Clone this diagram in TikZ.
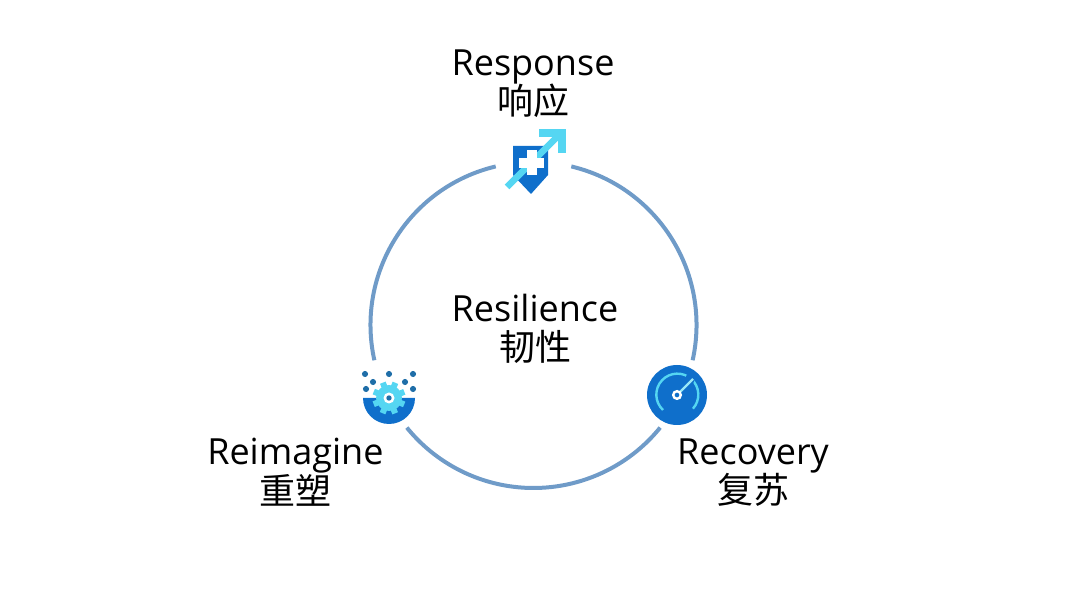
\documentclass[tikz,border=0pt]{standalone}
\usepackage{fontspec}
\setmainfont{Open Sans}
\newfontfamily\cjk{Noto Sans CJK SC}
\usetikzlibrary{positioning}

\definecolor{ringblue}{HTML}{6F9BC8}
\definecolor{iconblue}{HTML}{0F6FCB}
\definecolor{iconcyan}{HTML}{55D6F2}
\definecolor{dotblue}{HTML}{1F6EA8}

\begin{document}
\begin{tikzpicture}[
    x=0.75pt, y=0.75pt,
    word/.style={align=center, inner sep=0pt, text=black, font=\fontsize{27}{29.6}\selectfont},
    anchorbox/.style={inner sep=0pt, minimum size=37.5pt},
    ring/.style={draw=ringblue, line width=3pt},
    raydot/.style={fill=dotblue, circle, inner sep=0pt, minimum size=4.6pt}
  ]
  \useasboundingbox (0,0) rectangle (1067,599);

  \node[word] (hub) at (535,270) {Resilience\\{\cjk 韧性}};
  \coordinate (rc) at (533.5,274);

  % icon places
  \node[anchorbox] (resp) at (533,438) {};
  \node[anchorbox] (reim) at (389,203) {};
  \node[anchorbox] (reco) at (677,204) {};

  % labels
  \node[word, above=13pt of resp] (resptext) {Response\\{\cjk 响应}};
  \node[word, below left=12.5pt and -15pt of reim] (reimtext) {Reimagine\\{\cjk 重塑}};
  \node[word, below right=13.5pt and -19pt of reco] (recotext) {Recovery\\{\cjk 复苏}};

  % ring pieces
  \draw[ring] (rc) ++(76.6:122.25pt) arc[start angle=76.6, end angle=-12.5, radius=122.25pt];
  \draw[ring] (rc) ++(-39:122.25pt) arc[start angle=-39, end angle=-141, radius=122.25pt];
  \draw[ring] (rc) ++(192.5:122.25pt) arc[start angle=192.5, end angle=103.4, radius=122.25pt];

  % shield
  \fill[iconblue] (513,453) -- (548,453) -- (548,424) -- (531,405) -- (513,424) -- cycle;
  \draw[iconcyan, line width=5pt] (507,412) -- (559,464);
  \draw[iconcyan, line width=5.5pt] (539,466) -- (562,466) -- (562,446);
  \fill[white] (519,431) rectangle (544,441);
  \fill[white] (527,424) rectangle (537,449);

  % bowl and gear
  \fill[iconblue] (363,201) arc[start angle=180, end angle=360, radius=26] -- cycle;
  \foreach \a in {0,45,...,315}
    \draw[iconcyan, line width=4.5pt] (389,201) -- ++(\a+22:16.5);
  \fill[iconcyan] (389,201) circle[radius=13];
  \fill[white] (389,201) circle[radius=5.5];
  \fill[dotblue] (389,201) circle[radius=2.7];
  \node[raydot] (d1) at (365,225) {};
  \node[raydot] (d2) at (389,225) {};
  \node[raydot] (d3) at (413,225) {};
  \node[raydot] (d4) at (373,217) {};
  \node[raydot] (d5) at (405,217) {};
  \node[raydot] (d6) at (366,210) {};
  \node[raydot] (d7) at (413,210) {};

  % gauge
  \fill[iconblue] (677,204) circle[radius=30];
  \draw[iconcyan, line width=1.8pt] (663,189) arc[start angle=227, end angle=-42, radius=21];
  \fill[iconblue] (690,220) circle[radius=5];
  \draw[white!40!iconcyan, line width=1.8pt] (680,207) -- (693,220);
  \draw[white, line width=1.8pt, fill=iconblue] (677,204) circle[radius=3.8];
\end{tikzpicture}
\end{document}
